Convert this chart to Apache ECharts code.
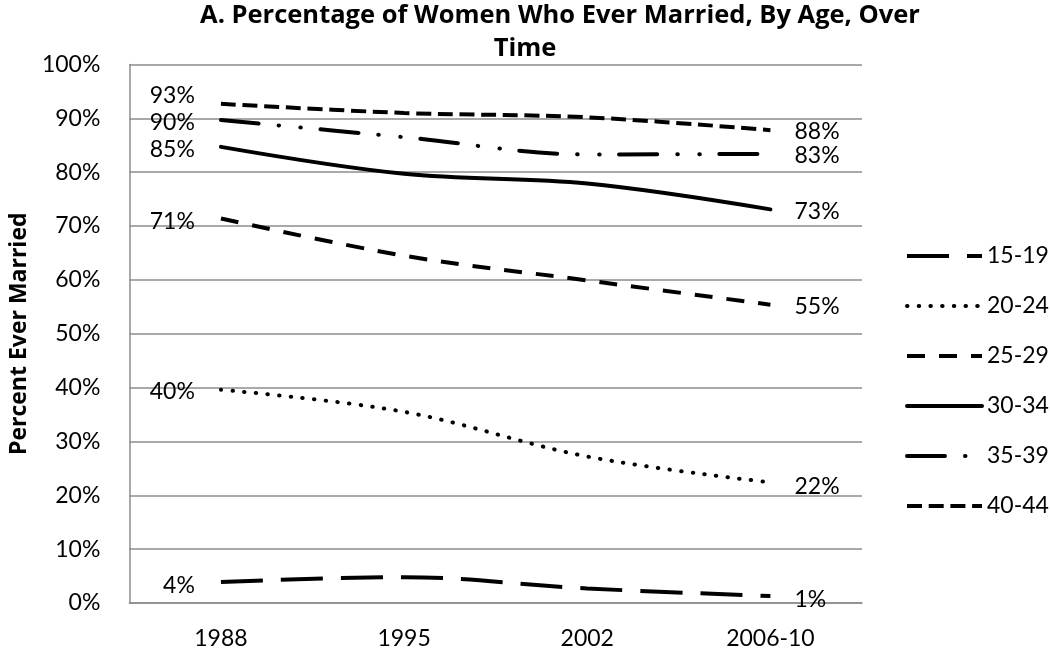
<!DOCTYPE html>
<html>
<head>
<meta charset="utf-8">
<script src="https://cdn.jsdelivr.net/npm/echarts@6/dist/echarts.min.js"></script>
<style>
html,body{margin:0;padding:0;background:#fff;}
#chart{width:1050px;height:650px;}
</style>
</head>
<body>
<div id="chart"></div>
<script>
// ---- data ----
var categories = ['1988', '1995', '2002', '2006-10'];
var seriesNames = ['15-19', '20-24', '25-29', '30-34', '35-39', '40-44'];
var age15_19 = [3.9, 4.8, 2.7, 1.3];
var age20_24 = [39.6, 35.5, 27.2, 22.4];
var age25_29 = [71.4, 64.5, 59.9, 55.4];
var age30_34 = [84.7, 79.7, 77.9, 73.1];
var age35_39 = [89.7, 86.5, 83.3, 83.4];
var age40_44 = [92.7, 91.0, 90.2, 87.8];
var yTicks = [0, 10, 20, 30, 40, 50, 60, 70, 80, 90, 100];
var titleLine1 = 'A. Percentage of Women Who Ever Married, By Age, Over';
var titleLine2 = 'Time';
var yAxisTitle = 'Percent Ever Married';

var FONT = 'Lato';
var BOLDFONT = 'Open Sans';
var values = [age15_19, age20_24, age25_29, age30_34, age35_39, age40_44];
var styles = [
  {type: [42, 18], cap: 'butt'},
  {type: [0.5, 11.2], cap: 'round'},
  {type: [18, 14], cap: 'butt'},
  {type: 'solid', cap: 'round'},
  {type: [38, 20, 0.5, 21.5, 0.5, 19.5], cap: 'round'},
  {type: [15, 6.7], cap: 'butt'}
];
var firstOffsets = [[0, 4], [0, 2], [0, 3], [0, 3], [0, 3], [0, -8]];
var lastOffsets = [[0, 4], [0, 4], [0, 2], [0, 2], [0, 2], [0, 1]];

function labelCfg(pos, off, dist) {
  return {
    show: true, position: pos, distance: dist, offset: off,
    color: '#000', fontFamily: FONT, fontSize: 23,
    formatter: function (p) { return Math.round(p.value) + '%'; }
  };
}

var series = values.map(function (arr, si) {
  var last = arr.length - 1;
  return {
    name: seriesNames[si],
    type: 'line',
    smooth: 0.35,
    symbol: 'circle',
    symbolSize: 0.1,
    showSymbol: true,
    showAllSymbol: true,
    lineStyle: {color: '#000', width: 4, type: styles[si].type, cap: styles[si].cap},
    itemStyle: {color: '#000'},
    label: {show: false},
    emphasis: {disabled: true},
    data: arr.map(function (v, i) {
      if (i === 0) return {value: v, label: labelCfg('left', firstOffsets[si], 26)};
      if (i === last) return {value: v, label: labelCfg('right', lastOffsets[si], 24)};
      return v;
    })
  };
});

var chart = echarts.init(document.getElementById('chart'), null, {renderer: 'canvas'});
chart.setOption({
  animation: false,
  backgroundColor: '#fff',
  title: [
    {text: titleLine1, left: 555, top: -2, textAlign: 'center',
     textStyle: {fontFamily: BOLDFONT, fontWeight: 'bold', fontSize: 25.5, color: '#000'}},
    {text: titleLine2, left: 520, top: 31, textAlign: 'center',
     textStyle: {fontFamily: BOLDFONT, fontWeight: 'bold', fontSize: 25.5, color: '#000'}}
  ],
  grid: {left: 123, right: 188, top: 64.5, bottom: 44.5, containLabel: false},
  legend: {
    orient: 'vertical', left: 900, top: 238,
    itemWidth: 75, itemHeight: 14, itemGap: 24, selectedMode: false,
    itemStyle: {opacity: 0},
    lineStyle: {width: 4},
    textStyle: {fontFamily: FONT, fontSize: 23, color: '#000', lineHeight: 26},
    data: seriesNames
  },
  xAxis: {
    type: 'category', data: categories, boundaryGap: true,
    axisLine: {lineStyle: {color: '#8c8c8c', width: 1.5}},
    axisTick: {show: false},
    axisLabel: {fontFamily: FONT, fontSize: 23, color: '#000', margin: 24}
  },
  yAxis: {
    type: 'value', min: yTicks[0], max: yTicks[yTicks.length - 1], interval: 10,
    name: yAxisTitle, nameLocation: 'middle', nameGap: 98,
    nameTextStyle: {fontFamily: BOLDFONT, fontWeight: 'bold', fontSize: 23, color: '#000'},
    axisLine: {show: true, lineStyle: {color: '#8c8c8c', width: 1.5}},
    axisTick: {show: false},
    splitLine: {lineStyle: {color: '#8c8c8c', width: 1.5}},
    axisLabel: {fontFamily: FONT, fontSize: 23, color: '#000', margin: 29,
      formatter: function (v) { return v + '%'; }}
  },
  series: series
});
</script>
</body>
</html>
